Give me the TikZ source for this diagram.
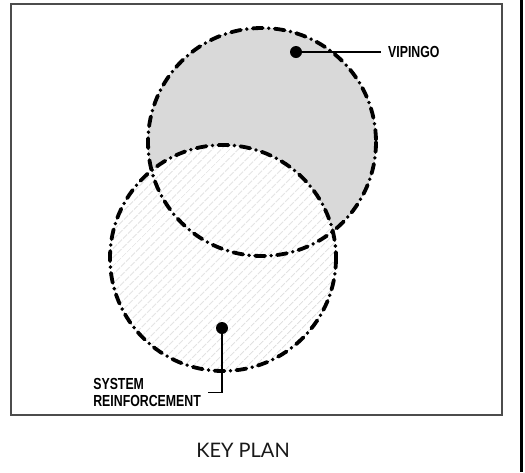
\documentclass[tikz,border=0pt]{standalone}
\usepackage{fontspec}
\setmainfont{Liberation Sans}
\newfontfamily\cadfont[FakeStretch=0.77]{Liberation Sans}
\newfontfamily\keyfont{Lato}
\usetikzlibrary{patterns.meta}
\tikzset{
  boundary/.style={line width=3.8pt,line cap=round,dash pattern=on 10pt off 6pt on 0pt off 6pt},
  leaderdot/.style={circle,fill=black,inner sep=0pt,minimum size=12pt},
  leaderlabel/.style={font=\cadfont\bfseries\fontsize{16}{17}\selectfont,inner ysep=0pt,inner xsep=7pt,align=left},
}
\begin{document}
\begin{tikzpicture}[x=1pt,y=-1pt]
			\useasboundingbox (0,0) rectangle (525,472);
			\coordinate (Vc) at (262,142);
			\coordinate (Sc) at (223,258);

			\draw[line width=1.2pt,gray!60!black] (11,4) rectangle (502,415);
			\draw[line width=3pt] (521.5,0) -- (521.5,472);

			\fill[gray!30] (Vc) circle (114);
			\fill[white] (Sc) circle (113);
			\fill[pattern={Lines[angle=45,distance=6.5pt,line width=0.8pt]},pattern color=gray!40] (Sc) circle (113);
			\draw[boundary] (Vc) circle (114);
			\draw[boundary] (Sc) circle (113);

			\node[leaderdot] (vipdot) at (296,52) {};
			\node[leaderlabel,anchor=west] (vip) at (381,52) {VIPINGO};
			\draw[line width=1.5pt] (vipdot) -- (vip.west);

			\node[leaderdot] (sysdot) at (222,328) {};
			\node[leaderlabel,anchor=east] (sys) at (208,392.5) {SYSTEM\\REINFORCEMENT};
			\draw[line width=1.5pt] (sysdot) |- (sys.east);

			\node[font=\keyfont\fontsize{20}{24}\selectfont,text=gray!20!black] (title) at (243,450) {KEY PLAN};
		    \end{tikzpicture}
\end{document}
